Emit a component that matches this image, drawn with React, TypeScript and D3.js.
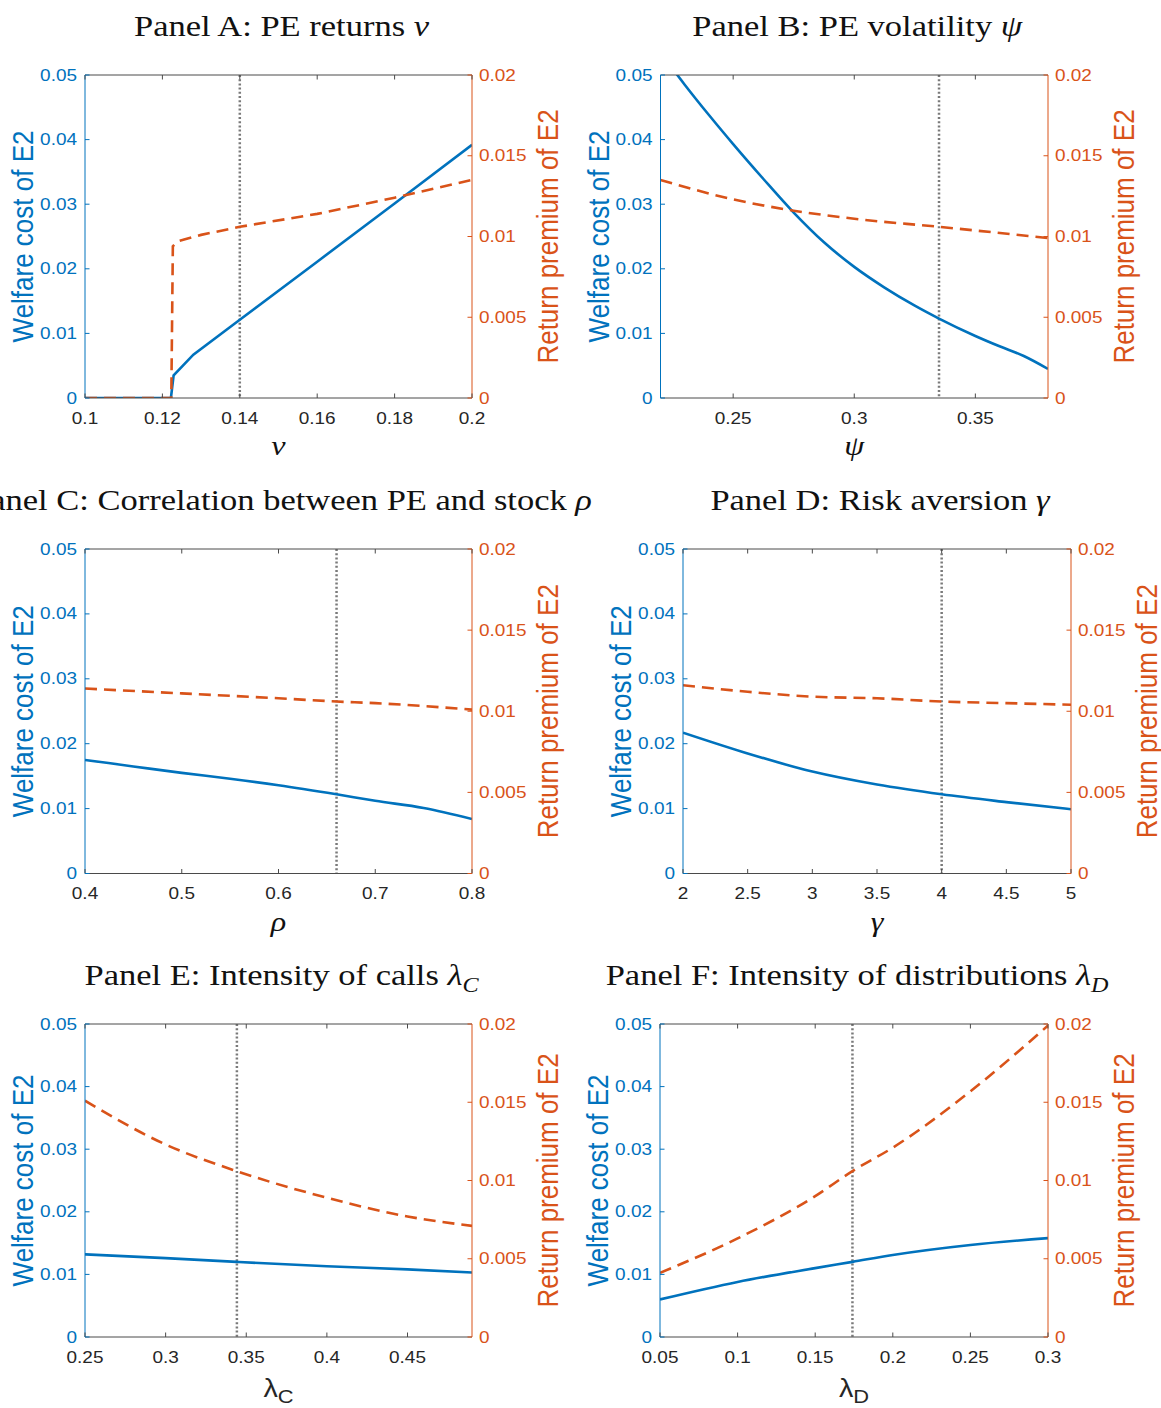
import React from "react";
import * as d3 from "d3";

const BLUE = "#0072BD";
const ORANGE = "#D95319";
const GRAY = "#7a7a7a";
const AXIS = "#4a4a4a";
const TXT = "#262626";
const SX = 1.15; // horizontal stretch of the reference text

const SANS = "'Liberation Sans', Arial, Helvetica, sans-serif";
const SERIF = "'Liberation Serif', 'Times New Roman', serif";

// Shared y ticks
const welfareTicks = [0, 0.01, 0.02, 0.03, 0.04, 0.05];
const welfareTickLabels = ["0", "0.01", "0.02", "0.03", "0.04", "0.05"];
const premiumTicks = [0, 0.005, 0.01, 0.015, 0.02];
const premiumTickLabels = ["0", "0.005", "0.01", "0.015", "0.02"];

// Panel A: PE returns nu
const aWelfareX = [0.1, 0.1222, 0.1229, 0.128, 0.14, 0.16, 0.18, 0.2];
const aWelfare = [0, 0, 0.0035, 0.0067, 0.0121, 0.0211, 0.0301, 0.0392];
const aPremiumX = [0.1, 0.1223, 0.1227, 0.124, 0.127, 0.13, 0.14, 0.16, 0.18, 0.2];
const aPremium = [0, 0, 0.0094, 0.0097, 0.0099, 0.0101, 0.0106, 0.0114, 0.0124, 0.0135];
const aTicks = [0.1, 0.12, 0.14, 0.16, 0.18, 0.2];
const aTickLabels = ["0.1", "0.12", "0.14", "0.16", "0.18", "0.2"];

// Panel B: PE volatility psi
const bX = [0.22, 0.23, 0.24, 0.25, 0.2625, 0.275, 0.2875, 0.3, 0.3125, 0.325, 0.335, 0.35, 0.36, 0.37, 0.38];
const bWelfare = [0.0535, 0.0485, 0.0438, 0.0393, 0.0339, 0.0287, 0.0241, 0.0203, 0.0171, 0.0143, 0.0123, 0.0096, 0.008, 0.0065, 0.0045];
const bPremiumX = [0.22, 0.25, 0.275, 0.3, 0.335, 0.38];
const bPremium = [0.0135, 0.0123, 0.0116, 0.0111, 0.0106, 0.0099];
const bTicks = [0.25, 0.3, 0.35];
const bTickLabels = ["0.25", "0.3", "0.35"];

// Panel C: correlation rho
const cX = [0.4, 0.45, 0.5, 0.55, 0.6, 0.66, 0.7, 0.75, 0.8];
const cWelfare = [0.0175, 0.0165, 0.0155, 0.0146, 0.0136, 0.0122, 0.0112, 0.0101, 0.0084];
const cPremiumX = [0.4, 0.5, 0.6, 0.66, 0.7, 0.8];
const cPremium = [0.0114, 0.0111, 0.0108, 0.0106, 0.0105, 0.0101];
const cTicks = [0.4, 0.5, 0.6, 0.7, 0.8];
const cTickLabels = ["0.4", "0.5", "0.6", "0.7", "0.8"];

// Panel D: risk aversion gamma
const dX = [2, 2.5, 3, 3.5, 4, 4.5, 5];
const dWelfare = [0.0217, 0.0185, 0.0157, 0.0137, 0.0122, 0.011, 0.0099];
const dPremium = [0.0116, 0.0112, 0.0109, 0.0108, 0.0106, 0.0105, 0.0104];
const dTicks = [2, 2.5, 3, 3.5, 4, 4.5, 5];
const dTickLabels = ["2", "2.5", "3", "3.5", "4", "4.5", "5"];

// Panel E: intensity of calls
const eX = [0.25, 0.3, 0.344, 0.4, 0.45, 0.49];
const eWelfare = [0.0132, 0.0126, 0.012, 0.0113, 0.0108, 0.0103];
const ePremium = [0.0151, 0.0123, 0.0106, 0.0089, 0.0077, 0.0071];
const eTicks = [0.25, 0.3, 0.35, 0.4, 0.45];
const eTickLabels = ["0.25", "0.3", "0.35", "0.4", "0.45"];

// Panel F: intensity of distributions
const fX = [0.05, 0.1, 0.15, 0.174, 0.2, 0.25, 0.3];
const fWelfare = [0.006, 0.0088, 0.011, 0.012, 0.0131, 0.0147, 0.0158];
const fPremium = [0.0041, 0.0063, 0.009, 0.0106, 0.0121, 0.0157, 0.0199];
const fTicks = [0.05, 0.1, 0.15, 0.2, 0.25, 0.3];
const fTickLabels = ["0.05", "0.1", "0.15", "0.2", "0.25", "0.3"];

const frames = [
  { x0: 85, x1: 472, y0: 75, y1: 398 },
  { x0: 660.5, x1: 1048, y0: 75, y1: 398 },
  { x0: 85, x1: 472, y0: 549, y1: 873.5 },
  { x0: 683, x1: 1071, y0: 549, y1: 873.5 },
  { x0: 85, x1: 472, y0: 1024, y1: 1337 },
  { x0: 660, x1: 1048, y0: 1024, y1: 1337 },
];

const zip = (xs: number[], ys: number[]) => xs.map((x, i) => [x, ys[i]] as [number, number]);

const panels = [
  { title: "Panel A: PE returns ", sym: "ν", sub: "", xsym: "ν", xsub: "", domain: [0.1, 0.2], ref: 0.14,
    welfare: zip(aWelfareX, aWelfare), premium: zip(aPremiumX, aPremium), ticks: aTicks, tickLabels: aTickLabels, linear: true },
  { title: "Panel B: PE volatility ", sym: "ψ", sub: "", xsym: "ψ", xsub: "", domain: [0.22, 0.38], ref: 0.335,
    welfare: zip(bX, bWelfare), premium: zip(bPremiumX, bPremium), ticks: bTicks, tickLabels: bTickLabels, linear: false },
  { title: "Panel C: Correlation between PE and stock ", sym: "ρ", sub: "", xsym: "ρ", xsub: "", domain: [0.4, 0.8], ref: 0.66,
    welfare: zip(cX, cWelfare), premium: zip(cPremiumX, cPremium), ticks: cTicks, tickLabels: cTickLabels, linear: false },
  { title: "Panel D: Risk aversion ", sym: "γ", sub: "", xsym: "γ", xsub: "", domain: [2, 5], ref: 4,
    welfare: zip(dX, dWelfare), premium: zip(dX, dPremium), ticks: dTicks, tickLabels: dTickLabels, linear: false },
  { title: "Panel E: Intensity of calls ", sym: "λ", sub: "C", xsym: "λ", xsub: "C", domain: [0.25, 0.49], ref: 0.3442,
    welfare: zip(eX, eWelfare), premium: zip(eX, ePremium), ticks: eTicks, tickLabels: eTickLabels, linear: false },
  { title: "Panel F: Intensity of distributions ", sym: "λ", sub: "D", xsym: "λ", xsub: "D", domain: [0.05, 0.3], ref: 0.174,
    welfare: zip(fX, fWelfare), premium: zip(fX, fPremium), ticks: fTicks, tickLabels: fTickLabels, linear: false },
];

function Panel({ p, f, idx }: { p: any; f: any; idx: number }) {
  const x = d3.scaleLinear().domain(p.domain).range([f.x0, f.x1]);
  const yL = d3.scaleLinear().domain([0, 0.05]).range([f.y1, f.y0]);
  const yR = d3.scaleLinear().domain([0, 0.02]).range([f.y1, f.y0]);
  const curve = p.linear ? d3.curveLinear : d3.curveMonotoneX;
  const lineL = d3.line<[number, number]>().x((d) => x(d[0])).y((d) => yL(d[1])).curve(curve);
  const lineR = d3.line<[number, number]>().x((d) => x(d[0])).y((d) => yR(d[1])).curve(curve);
  const cx = (f.x0 + f.x1) / 2;
  const cy = (f.y0 + f.y1) / 2;
  const clipId = `clip${idx}`;
  const tl = 4.5;
  const greek = p.xsub === "";
  return (
    <g>
      <defs>
        <clipPath id={clipId}>
          <rect x={f.x0} y={f.y0} width={f.x1 - f.x0} height={f.y1 - f.y0} />
        </clipPath>
      </defs>
      {/* title */}
      <g transform={`translate(${cx + 3},${f.y0 - 39}) scale(${SX},1)`}>
        <text textAnchor="middle" fontFamily={SERIF} fontSize={30} fill="#111">
          {p.title}
          <tspan fontStyle="italic">{p.sym}</tspan>
          {p.sub ? (
            <tspan fontStyle="italic" fontSize={21} dy={7}>{p.sub}</tspan>
          ) : null}
        </text>
      </g>
      {/* reference dotted line */}
      <line x1={x(p.ref)} x2={x(p.ref)} y1={f.y0} y2={f.y1} stroke={GRAY} strokeWidth={2.5} strokeDasharray="2,2.2" />
      {/* series */}
      <g clipPath={`url(#${clipId})`}>
        <path d={lineL(p.welfare) || ""} fill="none" stroke={BLUE} strokeWidth={2.6} />
        <path d={lineR(p.premium) || ""} fill="none" stroke={ORANGE} strokeWidth={2.6} strokeDasharray="12,7" />
      </g>
      {/* axes box */}
      <line x1={f.x0} x2={f.x1} y1={f.y0} y2={f.y0} stroke={AXIS} strokeWidth={1} />
      <line x1={f.x0} x2={f.x1} y1={f.y1} y2={f.y1} stroke={AXIS} strokeWidth={1} />
      <line x1={f.x0} x2={f.x0} y1={f.y0} y2={f.y1} stroke={BLUE} strokeWidth={1} />
      <line x1={f.x1} x2={f.x1} y1={f.y0} y2={f.y1} stroke={ORANGE} strokeWidth={1} />
      {/* x ticks */}
      {p.ticks.map((t: number, i: number) => (
        <g key={`xt${i}`}>
          <line x1={x(t)} x2={x(t)} y1={f.y1} y2={f.y1 - tl} stroke={AXIS} strokeWidth={1} />
          <line x1={x(t)} x2={x(t)} y1={f.y0} y2={f.y0 + tl} stroke={AXIS} strokeWidth={1} />
          <g transform={`translate(${x(t)},${f.y1 + 25.5}) scale(${SX},1)`}>
            <text textAnchor="middle" fontFamily={SANS} fontSize={16.5} fill={TXT}>{p.tickLabels[i]}</text>
          </g>
        </g>
      ))}
      {/* left ticks */}
      {welfareTicks.map((t, i) => (
        <g key={`yl${i}`}>
          <line x1={f.x0} x2={f.x0 + tl} y1={yL(t)} y2={yL(t)} stroke={BLUE} strokeWidth={1} />
          <g transform={`translate(${f.x0 - 8},${yL(t)}) scale(${SX},1)`}>
            <text textAnchor="end" dominantBaseline="central" fontFamily={SANS} fontSize={16.5} fill={BLUE}>{welfareTickLabels[i]}</text>
          </g>
        </g>
      ))}
      {/* right ticks */}
      {premiumTicks.map((t, i) => (
        <g key={`yr${i}`}>
          <line x1={f.x1} x2={f.x1 - tl} y1={yR(t)} y2={yR(t)} stroke={ORANGE} strokeWidth={1} />
          <g transform={`translate(${f.x1 + 7},${yR(t)}) scale(${SX},1)`}>
            <text textAnchor="start" dominantBaseline="central" fontFamily={SANS} fontSize={16.5} fill={ORANGE}>{premiumTickLabels[i]}</text>
          </g>
        </g>
      ))}
      {/* y labels */}
      <g transform={`translate(${f.x0 - 62},${cy}) scale(${SX},1) rotate(-90)`}>
        <text textAnchor="middle" dominantBaseline="central" fontFamily={SANS} fontSize={26} fill={BLUE}>Welfare cost of E2</text>
      </g>
      <g transform={`translate(${f.x1 + 76},${cy}) scale(${SX},1) rotate(-90)`}>
        <text textAnchor="middle" dominantBaseline="central" fontFamily={SANS} fontSize={26} fill={ORANGE}>Return premium of E2</text>
      </g>
      {/* x label */}
      {greek ? (
        <g transform={`translate(${cx},${f.y1 + 57}) scale(${SX},1)`}>
          <text textAnchor="middle" fontFamily={SERIF} fontStyle="italic" fontSize={28} fill="#111">{p.xsym}</text>
        </g>
      ) : (
        <g transform={`translate(${cx},${f.y1 + 60}) scale(${SX},1)`}>
          <text textAnchor="middle" fontFamily={SANS} fontSize={25} fill={TXT}>
            {p.xsym}
            <tspan fontSize={19} dy={6}>{p.xsub}</tspan>
          </text>
        </g>
      )}
    </g>
  );
}

export default function App() {
  return (
    <svg
      width={1161}
      height={1408}
      viewBox="0 0 1161 1408"
      style={{ position: "absolute", left: 0, top: 0, background: "#fff" }}
    >
      <rect x={0} y={0} width={1161} height={1408} fill="#fff" />
      {panels.map((p, i) => (
        <Panel key={i} p={p} f={frames[i]} idx={i} />
      ))}
    </svg>
  );
}
